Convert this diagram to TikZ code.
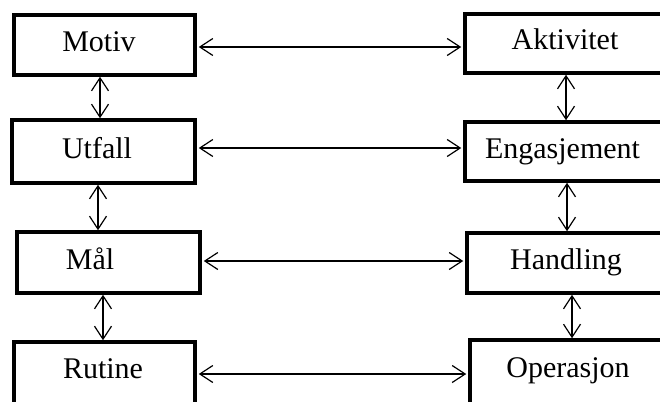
\documentclass[tikz,border=0pt]{standalone}
\usepackage{fontspec}
\setmainfont{Liberation Serif}
\usetikzlibrary{arrows.meta}
\begin{document}
\begin{tikzpicture}[x=1pt,y=-1pt,
  box/.style={draw, line width=3.5pt, rectangle, inner sep=0pt},
  word/.style={inner sep=0pt, text height=20pt, text depth=0pt, font=\fontsize{30}{36}\selectfont},
  link/.style={line width=1.2pt, {Straight Barb[length=13pt,width=17pt,line width=1.2pt]}-{Straight Barb[length=13pt,width=17pt,line width=1.2pt]}}]
\useasboundingbox (0,0) rectangle (660,401);
\clip (0,0) rectangle (660,401);
\fill[white] (0,0) rectangle (660,401);

% left column
\node[box, minimum width=181pt, minimum height=60pt,
  label={[word, xshift=-5.5pt, yshift=3pt]center:Motiv}] (motiv) at (104.5,45) {};
\node[box, minimum width=183pt, minimum height=63pt,
  label={[word, xshift=-6.5pt, yshift=3.5pt]center:Utfall}] (utfall) at (103.5,151.5) {};
\node[box, minimum width=183pt, minimum height=61pt,
  label={[word, xshift=-18.5pt, yshift=3.5pt]center:Mål}] (mal) at (108.5,262.5) {};
\node[box, minimum width=181pt, minimum height=88pt,
  label={[word, xshift=-1.5pt, yshift=18pt]center:Rutine}] (rutine) at (104.5,386) {};

% right column
\node[box, minimum width=215pt, minimum height=59pt,
  label={[word, xshift=-7.5pt, yshift=3.5pt]center:Aktivitet}] (aktivitet) at (572.5,43.5) {};
\node[box, minimum width=215pt, minimum height=59pt,
  label={[word, xshift=-10pt, yshift=3.5pt]center:Engasjement}] (engasjement) at (572.5,151.5) {};
\node[box, minimum width=213pt, minimum height=60pt,
  label={[word, xshift=-7.5pt, yshift=4pt]center:Handling}] (handling) at (573.5,263) {};
\node[box, minimum width=210pt, minimum height=90pt,
  label={[word, xshift=-7pt, yshift=18pt]center:Operasjon}] (operasjon) at (575,385) {};

% horizontal links
\draw[link, shorten <=2pt, shorten >=2pt] (motiv.east |- 0,47) -- (aktivitet.west |- 0,47);
\draw[link, shorten <=2pt, shorten >=2pt] (utfall.east |- 0,148) -- (engasjement.west |- 0,148);
\draw[link, shorten <=2pt, shorten >=2pt] (mal.east |- 0,261) -- (handling.west |- 0,261);
\draw[link, shorten <=2pt, shorten >=2pt] (rutine.east |- 0,374) -- (operasjon.west |- 0,374);

% vertical links
\draw[link] (motiv.south -| 100,0) -- (utfall.north -| 100,0);
\draw[link] (utfall.south -| 98,0) -- (mal.north -| 98,0);
\draw[link] (mal.south -| 103,0) -- (rutine.north -| 103,0);
\draw[link] (aktivitet.south -| 566,0) -- (engasjement.north -| 566,0);
\draw[link] (engasjement.south -| 567,0) -- (handling.north -| 567,0);
\draw[link] (handling.south -| 572,0) -- (operasjon.north -| 572,0);
\end{tikzpicture}
\end{document}
